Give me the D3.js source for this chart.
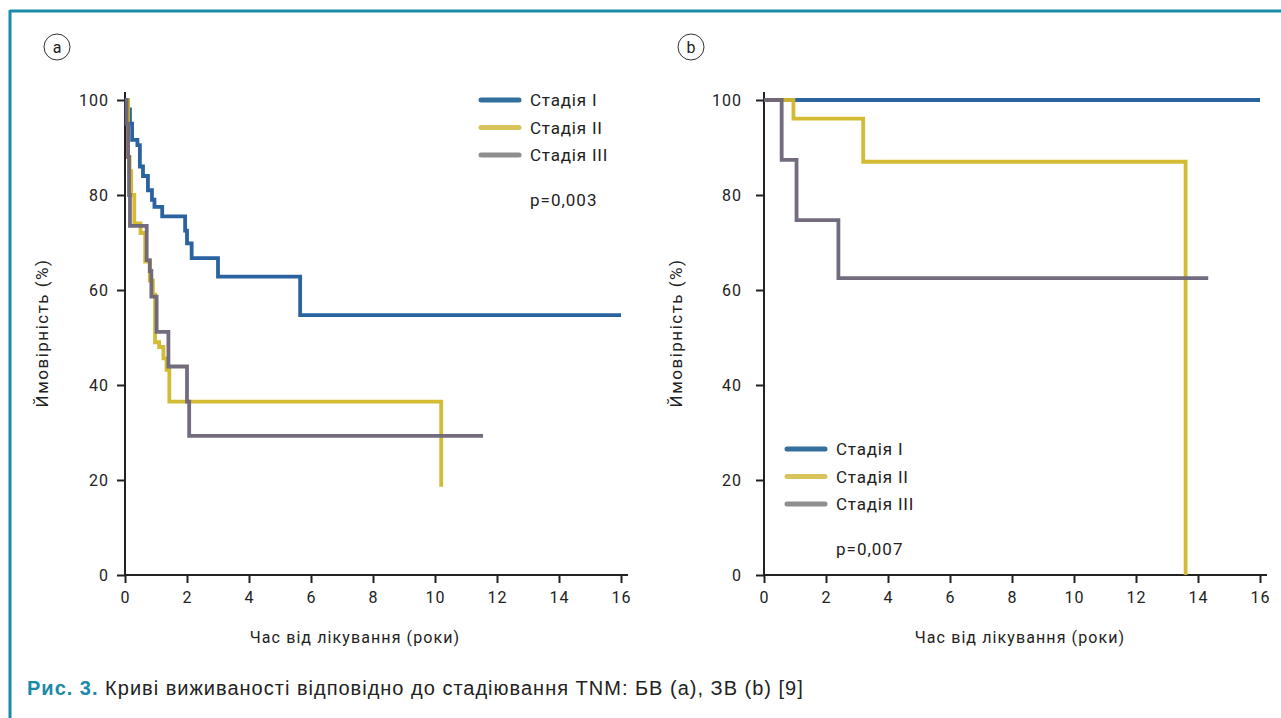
<!DOCTYPE html>
<html>
<head>
<meta charset="utf-8">
<script src="https://cdn.jsdelivr.net/npm/d3@7"></script>
<style>
  body { margin: 0; background: #fff; }
  svg { display: block; }
</style>
</head>
<body>
<div id="chart"></div>
<script>
// series names and tick values
var stages = ["Стадія I", "Стадія II", "Стадія III"];
var xTicks = [0, 2, 4, 6, 8, 10, 12, 14, 16];
var yTicks = [0, 20, 40, 60, 80, 100];

// panel a (БВ) - step curves, time in years / survival in %
var aStage1Time = [0, 0.1, 0.16, 0.23, 0.4, 0.48, 0.58, 0.74, 0.87, 0.95, 1.2, 1.94, 2.0, 2.15, 3.0, 5.65, 16];
var aStage1Surv = [100, 98, 95, 91.6, 90.5, 86, 84, 81, 79, 77.5, 75.5, 72.5, 69.8, 66.7, 62.8, 54.7, 54.7];
var aStage2Time = [0, 0.1, 0.15, 0.2, 0.3, 0.5, 0.65, 0.8, 0.9, 0.97, 1.1, 1.24, 1.34, 1.43, 10.2];
var aStage2Surv = [100, 88, 85, 80, 74, 72, 66, 62, 59, 49, 48, 45.6, 43.2, 36.5, 18.6];
var aStage3Time = [0, 0.05, 0.1, 0.13, 0.16, 0.7, 0.8, 0.85, 1.02, 1.4, 2.0, 2.07, 11.55];
var aStage3Surv = [100, 95, 88, 80, 73.5, 66.3, 64, 58.6, 51.2, 43.9, 36.5, 29.3, 29.3];

// panel b (ЗВ)
var bStage1Time = [0, 16];
var bStage1Surv = [100, 100];
var bStage2Time = [0, 0.95, 3.2, 13.6];
var bStage2Surv = [100, 96.1, 87, 0];
var bStage3Time = [0, 0.57, 1.05, 2.4, 14.33];
var bStage3Surv = [100, 87.4, 74.7, 62.5, 62.5];

var lineColors = ["#1f5b9b", "#d1b72b", "#6b6478"];
var legendColors = ["#336f9c", "#d9c45b", "#8e8e8e"];
var teal = "#1a8aa8";
var font = "Roboto, 'DejaVu Sans', sans-serif";

var W = 1281, H = 718;
var svg = d3.select("#chart").append("svg")
    .attr("width", W)
    .attr("height", H);

// frame lines (top and left)
svg.append("line").attr("x1", 10).attr("x2", W).attr("y1", 11).attr("y2", 11)
    .attr("stroke", teal).attr("stroke-width", 3);
svg.append("line").attr("x1", 10).attr("x2", 10).attr("y1", 10).attr("y2", H)
    .attr("stroke", teal).attr("stroke-width", 3);

function zip(t, s) {
  return t.map(function (d, i) { return {t: d, s: s[i]}; });
}

function txt(sel, size, spacing) {
  return sel.style("font-family", font).style("font-size", size + "px")
      .style("letter-spacing", spacing + "px").attr("fill", "#222");
}

function drawPanel(opts) {
  var x = d3.scaleLinear().domain([0, 16]).range([opts.left, opts.left + 496]);
  var y = d3.scaleLinear().domain([0, 100]).range([575, 100]);

  var g = svg.append("g");

  // panel letter in a circle
  g.append("circle")
      .attr("cx", opts.badgeX).attr("cy", 47).attr("r", 13)
      .attr("fill", "none").attr("stroke", "#333").attr("stroke-width", 1);
  txt(g.append("text"), 16, 0)
      .attr("x", opts.badgeX).attr("y", 52.5)
      .attr("text-anchor", "middle")
      .text(opts.letter);

  // axes
  var xAxis = g.append("g")
      .attr("transform", "translate(0,575)")
      .call(d3.axisBottom(x).tickValues(xTicks).tickSize(8).tickPadding(9).tickSizeOuter(0));
  xAxis.select(".domain").attr("d", "M" + opts.left + ",0H" + (opts.left + 503));
  var yAxis = g.append("g")
      .attr("transform", "translate(" + opts.left + ",0)")
      .call(d3.axisLeft(y).tickValues(yTicks).tickSize(8).tickPadding(opts.yPad).tickSizeOuter(0));
  yAxis.select(".domain").attr("d", "M0,92V575");

  [xAxis, yAxis].forEach(function (ax) {
    ax.select(".domain").attr("stroke", "#222").attr("stroke-width", 2);
    ax.selectAll(".tick line").attr("stroke", "#222").attr("stroke-width", 2);
    txt(ax.selectAll(".tick text"), 16, 1);
  });

  // axis titles
  txt(g.append("text"), 16, 1.1)
      .attr("x", opts.xTitleX).attr("y", 643)
      .attr("text-anchor", "middle")
      .text("Час від лікування (роки)");
  txt(g.append("text"), 17, 1.5)
      .attr("transform", "translate(" + opts.yTitleX + ",333) rotate(-90)")
      .attr("text-anchor", "middle")
      .text("Ймовірність (%)");

  // curves
  var line = d3.line()
      .curve(d3.curveStepAfter)
      .x(function (d) { return x(d.t); })
      .y(function (d) { return y(d.s); });

  g.append("g").selectAll("path")
      .data(opts.series)
      .enter().append("path")
      .attr("d", function (d) { return line(d); })
      .attr("fill", "none")
      .attr("stroke", function (d, i) { return lineColors[i]; })
      .attr("stroke-width", 3.8)
      .attr("opacity", 0.95);

  // legend
  var lg = g.append("g").attr("transform", "translate(" + opts.legendX + "," + opts.legendY + ")");
  var item = lg.selectAll("g").data(stages).enter().append("g")
      .attr("transform", function (d, i) { return "translate(0," + (i * 27.5) + ")"; });
  item.append("line")
      .attr("x1", 2).attr("x2", 40).attr("y1", 0).attr("y2", 0)
      .attr("stroke", function (d, i) { return legendColors[i]; })
      .attr("stroke-width", 5).attr("stroke-linecap", "round");
  txt(item.append("text"), 17, 0.8)
      .attr("x", 51).attr("y", 6)
      .text(function (d) { return d; });
  txt(lg.append("text"), 17, 1)
      .attr("x", 51).attr("y", 106)
      .text(opts.pValue);
}

drawPanel({
  left: 125, badgeX: 57, letter: "a", yPad: 8, xTitleX: 355, yTitleX: 48,
  legendX: 479, legendY: 100, pValue: "p=0,003",
  series: [zip(aStage1Time, aStage1Surv), zip(aStage2Time, aStage2Surv), zip(aStage3Time, aStage3Surv)]
});
drawPanel({
  left: 764, badgeX: 691, letter: "b", yPad: 14, xTitleX: 1020, yTitleX: 682,
  legendX: 785, legendY: 449, pValue: "p=0,007",
  series: [zip(bStage1Time, bStage1Surv), zip(bStage2Time, bStage2Surv), zip(bStage3Time, bStage3Surv)]
});

// caption
var cap = svg.append("text")
    .attr("x", 27).attr("y", 695)
    .style("font-family", "'Liberation Sans', Arial, sans-serif").style("font-size", "20px")
    .style("letter-spacing", "1px");
cap.append("tspan").attr("fill", teal).attr("font-weight", "bold").text("Рис. 3.");
cap.append("tspan").attr("fill", "#222").text(" Криві виживаності відповідно до стадіювання TNM: БВ (a), ЗВ (b) [9]");
</script>
</body>
</html>
